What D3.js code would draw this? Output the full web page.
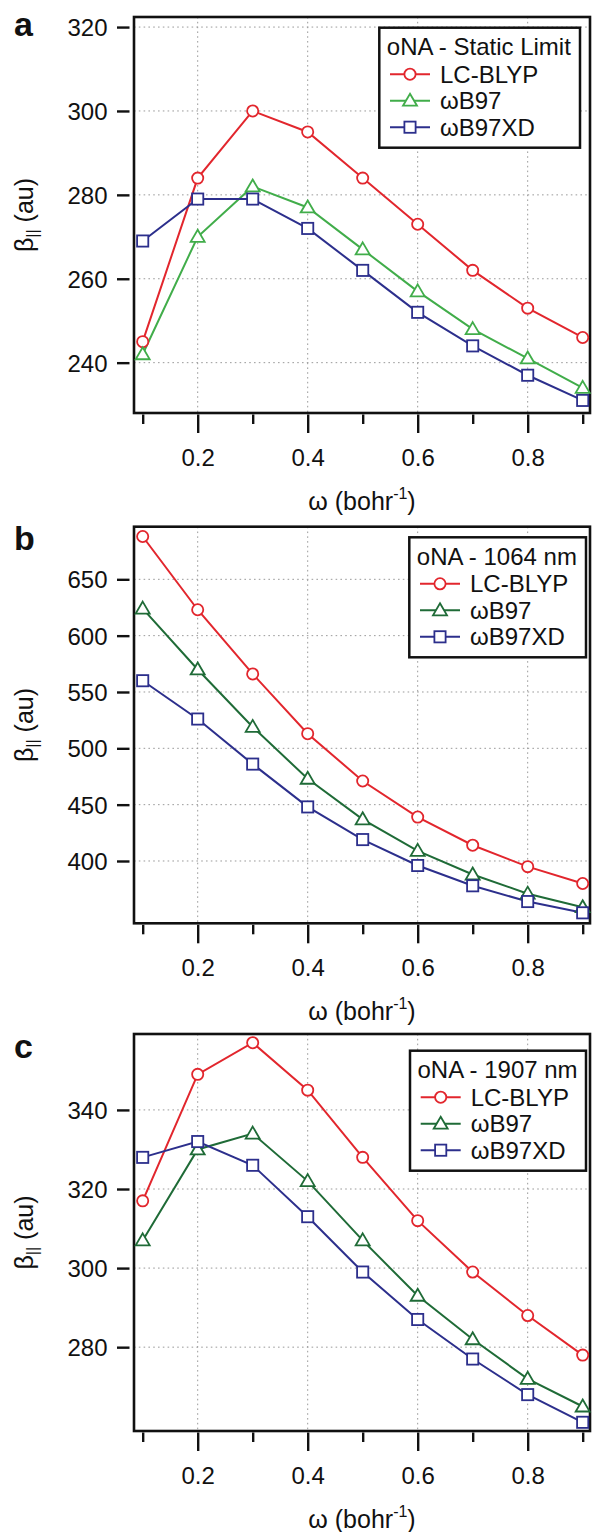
<!DOCTYPE html>
<html><head><meta charset="utf-8">
<script src="https://cdn.jsdelivr.net/npm/d3@7"></script>
<style>
body{margin:0;background:#fff}
svg{display:block}
text{font-family:"Liberation Sans",Arial,Helvetica,sans-serif;fill:#111}
</style>
</head><body>
<svg id="chart" width="593" height="1532"></svg>
<script>
// ---------- data ----------
const omega = [0.1,0.2,0.3,0.4,0.5,0.6,0.7,0.8,0.9];
const seriesNames = ["LC-BLYP","ωB97","ωB97XD"];

const staticLCBLYP = [245,284,300,295,284,273,262,253,246];
const staticWB97   = [242,270,282,277,267,257,248,241,234];
const staticWB97XD = [269,279,279,272,262,252,244,237,231];

const nm1064LCBLYP = [688,623,566,513,471,439,414,395,380];
const nm1064WB97   = [624,570,519,473,437,409,388,371,359];
const nm1064WB97XD = [560,526,486,448,419,396,378,364,354];

const nm1907LCBLYP = [317,349,357,345,328,312,299,288,278];
const nm1907WB97   = [307,330,334,322,307,293,282,272,265];
const nm1907WB97XD = [328,332,326,313,299,287,277,268,261];

const xTickValues = [0.1,0.2,0.3,0.4,0.5,0.6,0.7,0.8,0.9];
const xTickLabels = ["","0.2","","0.4","","0.6","","0.8",""];
const staticYTicks = [240,260,280,300,320];
const nm1064YTicks = [400,450,500,550,600,650];
const nm1907YTicks = [280,300,320,340];
const panelLetters = ["a","b","c"];
const legendTitles = ["oNA - Static Limit","oNA - 1064 nm","oNA - 1907 nm"];

// ---------- layout ----------
const X0 = 134, X1 = 590;
const red = "#e2262d", blue = "#2c2f8c", lightGreen = "#41ad4a", darkGreen = "#1f6b37";
const FS = "24px";
const panels = [
  {top:17, bottom:413, yDomain:[228,322.4], yTicks:staticYTicks,
   series:[staticLCBLYP,staticWB97,staticWB97XD], green:lightGreen,
   legend:{x:379.3,y:27.7,w:200.7}, letterY:36},
  {top:526.7, bottom:923.3, yDomain:[344.7,696.7], yTicks:nm1064YTicks,
   series:[nm1064LCBLYP,nm1064WB97,nm1064WB97XD], green:darkGreen,
   legend:{x:409.3,y:537.3,w:176.7}, letterY:550},
  {top:1034, bottom:1431, yDomain:[258.8,359.2], yTicks:nm1907YTicks,
   series:[nm1907LCBLYP,nm1907WB97,nm1907WB97XD], green:darkGreen,
   legend:{x:410,y:1050.7,w:176}, letterY:1058}
];
const shapes = ["circle","triangle","square"];

const svg = d3.select("#chart");

function drawMarker(g, shape, x, y, color){
  if(shape==="circle"){
    g.append("circle").attr("cx",x).attr("cy",y).attr("r",5.6)
      .attr("fill","#fff").attr("stroke",color).attr("stroke-width",1.8);
  } else if(shape==="square"){
    g.append("rect").attr("x",x-5.6).attr("y",y-5.6).attr("width",11.2).attr("height",11.2)
      .attr("fill","#fff").attr("stroke",color).attr("stroke-width",1.8);
  } else {
    g.append("path").attr("d",`M${x},${y-7}L${x+7},${y+5}L${x-7},${y+5}Z`)
      .attr("fill","#fff").attr("stroke",color).attr("stroke-width",1.8).attr("stroke-linejoin","miter");
  }
}

panels.forEach((p,pi)=>{
  const g = svg.append("g");
  const x = d3.scaleLinear().domain([0.0842,0.9133]).range([X0,X1]);
  const y = d3.scaleLinear().domain(p.yDomain).range([p.bottom,p.top]);
  const colors = [red,p.green,blue];

  // grid
  const grid = g.append("g").attr("stroke","#9a9a9a").attr("stroke-width",1).attr("stroke-dasharray","1.6,3.2");
  xTickValues.forEach((v,i)=>{ if(xTickLabels[i]) grid.append("line")
    .attr("x1",x(v)).attr("x2",x(v)).attr("y1",p.top).attr("y2",p.bottom); });
  p.yTicks.forEach(v=> grid.append("line")
    .attr("x1",X0).attr("x2",X1).attr("y1",y(v)).attr("y2",y(v)));

  // x axis (ticks below frame)
  const xAxis = d3.axisBottom(x).tickValues(xTickValues)
    .tickFormat((d,i)=>xTickLabels[i]).tickSizeOuter(0).tickSizeInner(0).tickPadding(0);
  const xa = g.append("g").attr("transform",`translate(0,${p.bottom+1.5})`).call(xAxis);
  xa.select(".domain").remove();
  xa.selectAll(".tick line").attr("stroke","#111").attr("stroke-width",2.4)
    .attr("y2",(d,i)=> xTickLabels[i] ? 18.5 : 9.5);
  xa.selectAll(".tick text").attr("y",0).attr("dy",0)
    .attr("transform","translate(0,51)")
    .style("font-size",FS).style("font-family","'Liberation Sans',Arial,sans-serif").attr("fill","#111");

  // y axis (offset left of frame)
  const yAxis = d3.axisLeft(y).tickValues(p.yTicks).tickFormat(d3.format("d"))
    .tickSizeOuter(0).tickSizeInner(12.5).tickPadding(9.5);
  const ya = g.append("g").attr("transform",`translate(${X0-4.5},0)`).call(yAxis);
  ya.select(".domain").remove();
  ya.selectAll(".tick line").attr("stroke","#111").attr("stroke-width",2.4);
  ya.selectAll(".tick text").attr("dy","0.36em")
    .style("font-size",FS).style("font-family","'Liberation Sans',Arial,sans-serif").attr("fill","#111");

  // frame
  g.append("rect").attr("x",X0).attr("y",p.top).attr("width",X1-X0).attr("height",p.bottom-p.top)
    .attr("fill","none").attr("stroke","#111").attr("stroke-width",2.6);

  // series
  p.series.forEach((vals,si)=>{
    const line = d3.line().x((d,i)=>x(omega[i])).y(d=>y(d));
    g.append("path").datum(vals).attr("d",line).attr("fill","none")
      .attr("stroke",colors[si]).attr("stroke-width",2);
  });
  p.series.forEach((vals,si)=>{
    vals.forEach((v,i)=> drawMarker(g, shapes[si], x(omega[i]), y(v), colors[si]));
  });

  // legend
  const L = p.legend;
  const lg = g.append("g");
  lg.append("rect").attr("x",L.x).attr("y",L.y).attr("width",L.w).attr("height",120)
    .attr("fill","#fff").attr("stroke","#111").attr("stroke-width",2.5);
  lg.append("text").attr("x",L.x+7.5).attr("y",L.y+27.5).style("font-size",FS).text(legendTitles[pi]);
  seriesNames.forEach((nm,si)=>{
    const by = L.y + 55 + si*26.5;
    const cy = by - 8.5;
    lg.append("line").attr("x1",L.x+10.7).attr("x2",L.x+50.7).attr("y1",cy).attr("y2",cy)
      .attr("stroke",colors[si]).attr("stroke-width",2);
    drawMarker(lg, shapes[si], L.x+30.7, cy, colors[si]);
    lg.append("text").attr("x",L.x+60.7).attr("y",by).style("font-size",FS).text(nm);
  });

  // axis titles
  const cx = (X0+X1)/2;
  const xt = g.append("text").attr("x",cx).attr("y",p.bottom+97).attr("text-anchor","middle")
    .style("font-size","25px");
  xt.append("tspan").text("ω (bohr");
  xt.append("tspan").attr("dy",-11).style("font-size","16px").text("-1");
  xt.append("tspan").attr("dy",11).text(")");

  const cy = (p.top+p.bottom)/2;
  const yt = g.append("text").attr("transform",`translate(33,${cy}) rotate(-90)`)
    .attr("text-anchor","middle").style("font-size","25px");
  yt.append("tspan").text("β");
  yt.append("tspan").attr("dy",5).style("font-size","16px").text("||");
  yt.append("tspan").attr("dy",-5).text(" (au)");

  // panel letter
  g.append("text").attr("x",14).attr("y",p.letterY).style("font-size","34px")
    .style("font-weight","bold").text(panelLetters[pi]);
});
</script>
</body></html>
